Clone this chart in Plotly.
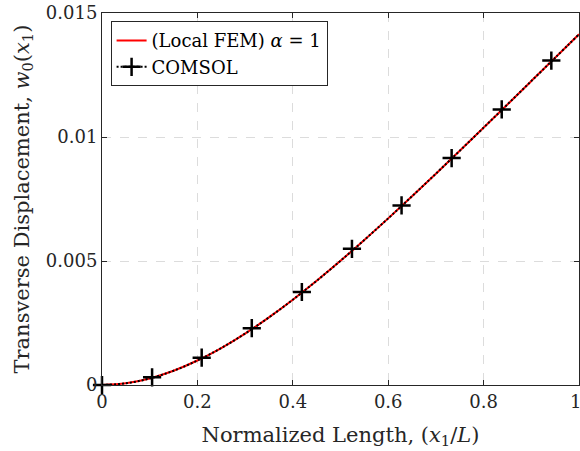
import plotly.graph_objects as go

# Red line (Local FEM, alpha = 1)
fem_x = [0.0, 0.05, 0.1, 0.15, 0.2, 0.25, 0.3, 0.35, 0.4, 0.45, 0.5,
         0.55, 0.6, 0.65, 0.7, 0.75, 0.8, 0.85, 0.9, 0.95, 1.0]
fem_y = [0.0, 0.000068, 0.000264, 0.000575, 0.000988, 0.001491, 0.002074,
         0.002727, 0.003439, 0.004202, 0.005008, 0.005849, 0.006719,
         0.007612, 0.008522, 0.009445, 0.010377, 0.011314, 0.012255,
         0.013197, 0.01414]

# COMSOL markers
comsol_x = [0.0, 0.105, 0.209, 0.314, 0.419, 0.524, 0.628, 0.733, 0.838, 0.942]
comsol_y = [0.0, 0.00031, 0.00110, 0.00229, 0.00375, 0.00549, 0.00724,
            0.00915, 0.01111, 0.01308]

x_ticks = [0, 0.2, 0.4, 0.6, 0.8, 1]
x_tick_labels = ["0", "0.2", "0.4", "0.6", "0.8", "1"]
y_ticks = [0, 0.005, 0.01, 0.015]
y_tick_labels = ["0", "0.005", "0.01", "0.015"]

FONT = "DejaVu Serif"

fig = go.Figure()
fig.add_trace(go.Scatter(x=fem_x, y=fem_y, mode="lines", line=dict(color="#ff0000", width=2),
                         name="(Local FEM) <i>α</i> = 1", line_shape="spline"))
fig.add_trace(go.Scatter(x=fem_x, y=fem_y, mode="lines", line=dict(color="black", width=2, dash="2px,2px"),
                         showlegend=False, line_shape="spline", hoverinfo="skip"))
fig.add_trace(go.Scatter(x=comsol_x, y=comsol_y, mode="markers",
                         marker=dict(symbol="cross-thin", size=13, line=dict(color="black", width=2.5)),
                         showlegend=False, cliponaxis=False))
fig.add_trace(go.Scatter(x=[None], y=[None], mode="lines+markers", name="COMSOL",
                         line=dict(color="black", width=2, dash="2px,2px"),
                         marker=dict(symbol="cross-thin", size=13, line=dict(color="black", width=2.5))))

axis_common = dict(showline=True, linecolor="#262626", linewidth=1, mirror="ticks",
                   ticks="inside", ticklen=5, tickcolor="#262626", automargin=False,
                   showgrid=True, gridcolor="#dcdcdc", griddash="dash", gridwidth=1,
                   zeroline=False, tickfont=dict(family=FONT, size=18, color="#262626"))

fig.update_layout(
    width=580, height=451,
    margin=dict(l=102, r=1, t=13, b=66),
    paper_bgcolor="white", plot_bgcolor="white",
    font=dict(family=FONT, color="#262626"),
    showlegend=True,
    legend=dict(x=0.018, y=0.978, xanchor="left", yanchor="top",
                bgcolor="white", bordercolor="#262626", borderwidth=1,
                font=dict(family=FONT, size=18, color="black"),
                tracegroupgap=0, itemwidth=30),
    xaxis=dict(range=[0, 1], tickvals=x_ticks, ticktext=x_tick_labels,
               title=dict(text="Normalized Length, (<i>x</i><sub>1</sub>/<i>L</i>)",
                          font=dict(family=FONT, size=21, color="#262626"), standoff=16),
               **axis_common),
    yaxis=dict(range=[0, 0.015], tickvals=y_ticks, ticktext=y_tick_labels,
               title=dict(text="Transverse Displacement, <i>w</i><sub>0</sub>(<i>x</i><sub>1</sub>)",
                          font=dict(family=FONT, size=21, color="#262626"), standoff=10),
               **axis_common),
)

# the last x tick label sits on the window edge (plotly drops it), so draw it as text
fig.add_annotation(x=x_ticks[-1], xref="x", y=0, yref="paper", yshift=-4, xshift=-4,
                   text=x_tick_labels[-1], showarrow=False, xanchor="center", yanchor="top",
                   font=dict(family=FONT, size=18, color="#262626"))

fig.write_html("out.html", config={"displayModeBar": False},
               post_script="document.body.style.margin='0';")
